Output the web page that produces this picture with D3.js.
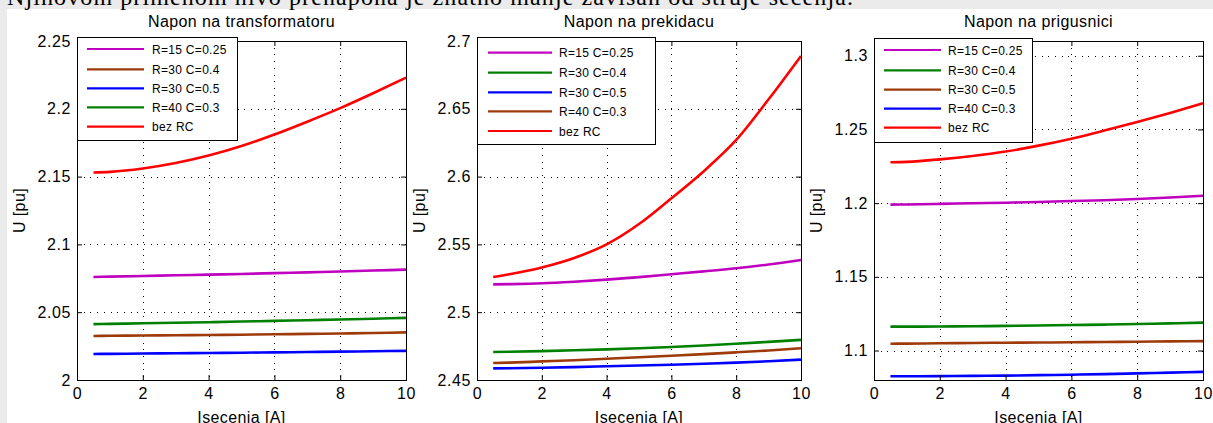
<!DOCTYPE html>
<html>
<head>
<meta charset="utf-8">
<script src="https://cdn.jsdelivr.net/npm/d3@7"></script>
<style>
  body { margin: 0; background: #ebebeb; }
  svg { display: block; }
  .tick text { font-family: "Liberation Sans", Arial, sans-serif; font-size: 16px; fill: #000; letter-spacing: 0.6px; }
  .lbl { font-family: "Liberation Sans", Arial, sans-serif; font-size: 16px; fill: #000; letter-spacing: 0.4px; }
  .leg { font-family: "Liberation Sans", Arial, sans-serif; font-size: 12px; fill: #000; letter-spacing: 0.3px; }
</style>
</head>
<body>
<div id="chart"></div>
<script>
// struja secenja [A]
const current = [0.5, 1, 2, 3, 4, 5, 6, 7, 8, 9, 10];
const xTicks = [0, 2, 4, 6, 8, 10];

// Napon na transformatoru
const trafoR15C025 = [2.0760, 2.0762, 2.0767, 2.0772, 2.0777, 2.0782, 2.0788, 2.0794, 2.0800, 2.0807, 2.0814];
const trafoR30C04  = [2.0325, 2.0326, 2.0328, 2.0330, 2.0332, 2.0334, 2.0337, 2.0340, 2.0343, 2.0347, 2.0351];
const trafoR30C05  = [2.0192, 2.0193, 2.0195, 2.0197, 2.0199, 2.0201, 2.0204, 2.0206, 2.0209, 2.0212, 2.0215];
const trafoR40C03  = [2.0412, 2.0414, 2.0418, 2.0422, 2.0426, 2.0431, 2.0436, 2.0441, 2.0446, 2.0452, 2.0458];
const trafoBezRC   = [2.153, 2.1535, 2.156, 2.160, 2.1655, 2.1725, 2.181, 2.1905, 2.2005, 2.2115, 2.223];
const trafoTicks = [2, 2.05, 2.1, 2.15, 2.2, 2.25];

// Napon na prekidacu
const prekR15C025 = [2.5205, 2.5207, 2.5213, 2.5225, 2.5240, 2.5259, 2.5280, 2.5301, 2.5324, 2.5352, 2.5385];
const prekR30C04  = [2.4706, 2.4708, 2.4713, 2.4719, 2.4726, 2.4734, 2.4743, 2.4754, 2.4767, 2.4781, 2.4796];
const prekR30C05  = [2.4586, 2.4587, 2.4590, 2.4595, 2.4601, 2.4607, 2.4613, 2.4620, 2.4628, 2.4638, 2.4650];
const prekR40C03  = [2.4625, 2.4628, 2.4637, 2.4646, 2.4657, 2.4668, 2.4679, 2.4691, 2.4704, 2.4718, 2.4734];
const prekBezRC   = [2.526, 2.528, 2.533, 2.540, 2.550, 2.565, 2.584, 2.604, 2.627, 2.657, 2.689];
const prekTicks = [2.45, 2.5, 2.55, 2.6, 2.65, 2.7];

// Napon na prigusnici
const prigR15C025 = [1.1990, 1.1991, 1.1995, 1.1999, 1.2003, 1.2008, 1.2014, 1.2020, 1.2028, 1.2038, 1.2050];
const prigR30C04  = [1.1162, 1.1162, 1.1163, 1.1165, 1.1167, 1.1170, 1.1173, 1.1176, 1.1180, 1.1184, 1.1189];
const prigR30C05  = [1.1046, 1.1047, 1.1049, 1.1051, 1.1053, 1.1054, 1.1056, 1.1058, 1.1060, 1.1062, 1.1064];
const prigR40C03  = [1.0825, 1.0825, 1.0826, 1.0828, 1.0830, 1.0833, 1.0836, 1.0840, 1.0845, 1.0850, 1.0855];
const prigBezRC   = [1.2277, 1.2280, 1.2297, 1.2320, 1.2350, 1.2390, 1.2437, 1.2492, 1.2550, 1.2612, 1.2677];
const prigTicks = [1.1, 1.15, 1.2, 1.25, 1.3];

const col = { m: '#bf00bf', br: '#9e3a0a', b: '#0000ff', g: '#008000', r: '#ff0000' };

const panels = [
  {
    title: 'Napon na transformatoru', left: 77, right: 406, yDomain: [2, 2.25], yTicks: trafoTicks,
    series: [
      { name: 'R=15 C=0.25', values: trafoR15C025, color: col.m },
      { name: 'R=30 C=0.4', values: trafoR30C04, color: col.br },
      { name: 'R=30 C=0.5', values: trafoR30C05, color: col.b },
      { name: 'R=40 C=0.3', values: trafoR40C03, color: col.g },
      { name: 'bez RC', values: trafoBezRC, color: col.r },
    ],
    legend: { x: 77, y: 37, w: 160, h: 103, l0: 10, l1: 67, tx: 75, rows: [49, 69.3, 88.3, 107.3, 126.7] },
  },
  {
    title: 'Napon na prekidacu', left: 477, right: 801, yDomain: [2.45, 2.7], yTicks: prekTicks,
    series: [
      { name: 'R=15 C=0.25', values: prekR15C025, color: col.m },
      { name: 'R=30 C=0.4', values: prekR30C04, color: col.g },
      { name: 'R=30 C=0.5', values: prekR30C05, color: col.b },
      { name: 'R=40 C=0.3', values: prekR40C03, color: col.br },
      { name: 'bez RC', values: prekBezRC, color: col.r },
    ],
    legend: { x: 477, y: 37, w: 178, h: 107, l0: 11, l1: 75, tx: 82, rows: [52.7, 72.7, 92.3, 111.3, 131] },
  },
  {
    title: 'Napon na prigusnici', left: 874, right: 1203, yDomain: [1.08, 1.31], yTicks: prigTicks,
    series: [
      { name: 'R=15 C=0.25', values: prigR15C025, color: col.m },
      { name: 'R=30 C=0.4', values: prigR30C04, color: col.g },
      { name: 'R=30 C=0.5', values: prigR30C05, color: col.br },
      { name: 'R=40 C=0.3', values: prigR40C03, color: col.b },
      { name: 'bez RC', values: prigBezRC, color: col.r },
    ],
    legend: { x: 874, y: 38, w: 158, h: 104, l0: 10, l1: 67, tx: 74, rows: [50, 70.3, 89.7, 108.7, 127.7] },
  },
];

const W = 1213, H = 423;
const plotTop = 41, plotBottom = 380;

const svg = d3.select('#chart').append('svg')
  .attr('width', W)
  .attr('height', H);

svg.append('rect').attr('width', W).attr('height', H).attr('fill', '#ebebeb');
svg.append('rect').attr('x', 7).attr('y', 9).attr('width', W - 7).attr('height', H - 9).attr('fill', '#fff');

// cut-off sentence above the figure
svg.append('text')
  .attr('x', 7)
  .attr('y', 5)
  .attr('textLength', 846)
  .attr('lengthAdjust', 'spacing')
  .style('font-family', '"Liberation Serif", "Times New Roman", serif')
  .style('font-size', '24px')
  .attr('fill', '#000')
  .text('Njihovom primenom nivo prenapona je znatno manje zavisan od struje secenja.');

const fmt = d3.format('~g');

panels.forEach((p) => {
  const x = d3.scaleLinear().domain([0, 10]).range([p.left, p.right]);
  const y = d3.scaleLinear().domain(p.yDomain).range([plotBottom, plotTop]);
  const g = svg.append('g');

  // dotted grid
  const grid = g.append('g')
    .attr('stroke', '#000')
    .attr('stroke-width', 1)
    .attr('stroke-dasharray', '1,5.7')
    .attr('shape-rendering', 'crispEdges');
  grid.selectAll('.gx').data(xTicks.slice(1, -1)).enter().append('line')
    .attr('x1', d => Math.round(x(d)) + 0.5).attr('x2', d => Math.round(x(d)) + 0.5)
    .attr('y1', plotTop).attr('y2', plotBottom);
  grid.selectAll('.gy').data(p.yTicks.filter(t => y(t) > plotTop + 1 && y(t) < plotBottom - 1)).enter().append('line')
    .attr('y1', d => Math.round(y(d)) + 0.5).attr('y2', d => Math.round(y(d)) + 0.5)
    .attr('x1', p.left).attr('x2', p.right);

  // curves
  const line = d3.line()
    .x((d, i) => x(current[i]))
    .y(d => y(d))
    .curve(d3.curveMonotoneX);
  g.selectAll('.curve').data(p.series).enter().append('path')
    .attr('fill', 'none')
    .attr('stroke', d => d.color)
    .attr('stroke-width', 2.6)
    .attr('d', d => line(d.values));

  // axes with inward ticks on all four sides
  g.append('g')
    .attr('transform', `translate(0,${plotBottom})`)
    .call(d3.axisBottom(x).tickValues(xTicks).tickFormat(fmt).tickSize(-5).tickPadding(8));
  g.append('g')
    .attr('transform', `translate(0,${plotTop})`)
    .call(d3.axisTop(x).tickValues(xTicks).tickFormat('').tickSize(-5));
  g.append('g')
    .attr('transform', `translate(${p.left},0)`)
    .call(d3.axisLeft(y).tickValues(p.yTicks).tickFormat(fmt).tickSize(-5).tickPadding(6));
  g.append('g')
    .attr('transform', `translate(${p.right},0)`)
    .call(d3.axisRight(y).tickValues(p.yTicks).tickFormat('').tickSize(-5));
  g.selectAll('.domain').attr('stroke', '#000');
  g.selectAll('.tick line').attr('stroke', '#000');
  g.append('rect')
    .attr('x', p.left + 0.5).attr('y', plotTop + 0.5)
    .attr('width', p.right - p.left).attr('height', plotBottom - plotTop)
    .attr('fill', 'none').attr('stroke', '#000');

  // titles and axis labels
  const cx = (p.left + p.right) / 2;
  g.append('text').attr('class', 'lbl')
    .attr('x', cx).attr('y', 27)
    .attr('text-anchor', 'middle')
    .text(p.title);
  g.append('text').attr('class', 'lbl')
    .attr('x', cx).attr('y', 423)
    .attr('text-anchor', 'middle')
    .text('Isecenja [A]');
  g.append('text').attr('class', 'lbl')
    .attr('transform', `translate(${p.left - 52},${(plotTop + plotBottom) / 2}) rotate(-90)`)
    .attr('text-anchor', 'middle')
    .text('U [pu]');

  // legend
  const L = p.legend;
  const lg = g.append('g');
  lg.append('rect')
    .attr('x', L.x + 0.5).attr('y', L.y + 0.5)
    .attr('width', L.w).attr('height', L.h)
    .attr('fill', '#fff').attr('stroke', '#000');
  const row = lg.selectAll('.row').data(p.series).enter().append('g')
    .attr('transform', (d, i) => `translate(${L.x},${L.rows[i]})`);
  row.append('line')
    .attr('x1', L.l0).attr('x2', L.l1)
    .attr('stroke', d => d.color)
    .attr('stroke-width', 2.2);
  row.append('text').attr('class', 'leg')
    .attr('x', L.tx).attr('y', 4.5)
    .text(d => d.name);
});
</script>
</body>
</html>
